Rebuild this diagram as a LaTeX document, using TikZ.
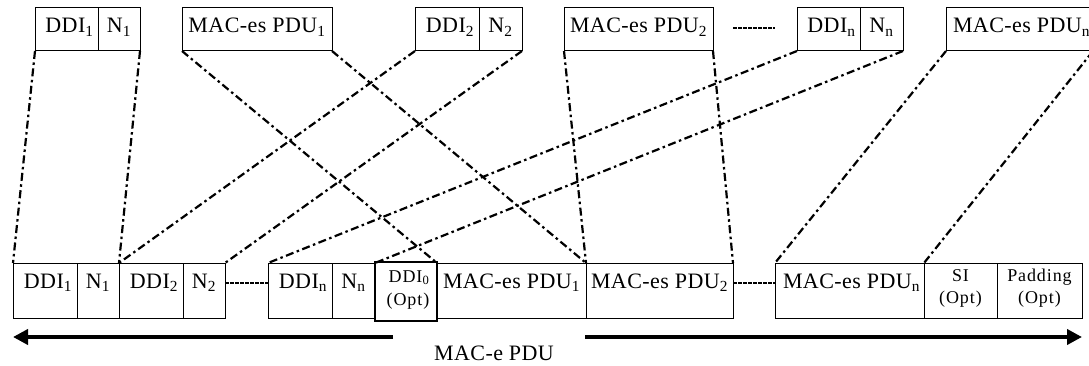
\documentclass[tikz,border=0pt]{standalone}
\usepackage{fontspec}
\setmainfont{Liberation Serif}
\newfontfamily\bigfont[LetterSpace=2]{Liberation Serif}
\newfontfamily\smallfont[LetterSpace=5]{Liberation Serif}
\usetikzlibrary{arrows.meta}
\tikzset{
 cell/.style={draw=black, line width=1pt, inner sep=0pt, outer sep=0pt, anchor=north west},
 bigtxt/.style={font=\bigfont\fontsize{22}{24}\selectfont, inner sep=0pt, anchor=base},
 smalltxt/.style={font=\smallfont\fontsize{18}{20}\selectfont, inner sep=0pt, anchor=base},
 link/.style={line width=2.2pt, dash pattern=on 8pt off 3.5pt on 2.5pt off 3.5pt},
 dotsep/.style={line width=2.6pt, dash pattern=on 4pt off 1pt},
 bigarrow/.style={line width=4pt, -{Triangle[length=15pt,width=15pt]}},
}
\newcommand\mkcell[6][]{\node[cell,#1, minimum width={#4pt-#3pt}, minimum height={#6pt-#5pt}] (#2) at (#3,#5) {};}
\begin{document}
\begin{tikzpicture}[x=1pt,y=-1pt]
\useasboundingbox (0,0) rectangle (1089,366);
\clip (0,0) rectangle (1089,366);
% top row
\mkcell{tD1}{35}{98}{8}{51}
\mkcell{tN1}{98}{140}{8}{51}
\mkcell{tP1}{182}{332}{8}{51}
\mkcell{tD2}{415}{479}{8}{51}
\mkcell{tN2}{479}{522}{8}{51}
\mkcell{tP2}{564}{713}{8}{51}
\mkcell{tDn}{797}{860}{8}{51}
\mkcell{tNn}{860}{903}{8}{51}
\mkcell{tPn}{946}{1093}{8}{51}
\node[bigtxt] (ttD1) at ([xshift=3pt,yshift=-25pt]tD1.north) {DDI\textsubscript{1}};
\node[bigtxt] (ttN1) at ([yshift=-25pt]tN1.north) {N\textsubscript{1}};
\node[bigtxt] (ttP1) at ([yshift=-25pt]tP1.north) {MAC-es PDU\textsubscript{1}};
\node[bigtxt] (ttD2) at ([xshift=3pt,yshift=-25pt]tD2.north) {DDI\textsubscript{2}};
\node[bigtxt] (ttN2) at ([yshift=-25pt]tN2.north) {N\textsubscript{2}};
\node[bigtxt] (ttP2) at ([yshift=-25pt]tP2.north) {MAC-es PDU\textsubscript{2}};
\node[bigtxt] (ttDn) at ([xshift=3pt,yshift=-25pt]tDn.north) {DDI\textsubscript{n}};
\node[bigtxt] (ttNn) at ([yshift=-25pt]tNn.north) {N\textsubscript{n}};
\node[bigtxt] (ttPn) at ([xshift=2pt,yshift=-25pt]tPn.north) {MAC-es PDU\textsubscript{n}};
\coordinate (d1) at (733,28);
\coordinate (d2) at (775,28);
\draw[dotsep] (d1) -- (d2);
% bottom row
\mkcell{bD1}{13}{77}{263}{318}
\mkcell{bN1}{77}{119}{263}{318}
\mkcell{bD2}{119}{183}{263}{318}
\mkcell{bN2}{183}{225}{263}{318}
\mkcell{bDn}{268}{332}{263}{318}
\mkcell{bNn}{332}{375}{263}{318}
\mkcell{bP1}{437}{586}{263}{318}
\mkcell{bP2}{586}{733}{263}{318}
\mkcell{bPn}{775}{924}{263}{318}
\mkcell{bSI}{924}{997}{263}{318}
\mkcell{bPad}{997}{1082}{263}{318}
\mkcell[line width=2pt]{bD0}{375}{437}{262}{321}
\node[bigtxt] (tbD1) at ([xshift=3pt,yshift=-25pt]bD1.north) {DDI\textsubscript{1}};
\node[bigtxt] (tbN1) at ([yshift=-25pt]bN1.north) {N\textsubscript{1}};
\node[bigtxt] (tbD2) at ([xshift=3pt,yshift=-25pt]bD2.north) {DDI\textsubscript{2}};
\node[bigtxt] (tbN2) at ([yshift=-25pt]bN2.north) {N\textsubscript{2}};
\node[bigtxt] (tbDn) at ([xshift=3pt,yshift=-25pt]bDn.north) {DDI\textsubscript{n}};
\node[bigtxt] (tbNn) at ([yshift=-25pt]bNn.north) {N\textsubscript{n}};
\node[bigtxt] (tbP1) at ([yshift=-25pt]bP1.north) {MAC-es PDU\textsubscript{1}};
\node[bigtxt] (tbP2) at ([yshift=-25pt]bP2.north) {MAC-es PDU\textsubscript{2}};
\node[bigtxt] (tbPn) at ([xshift=2pt,yshift=-25pt]bPn.north) {MAC-es PDU\textsubscript{n}};
\node[smalltxt] (tbD0a) at ([xshift=3pt,yshift=-20pt]bD0.north) {DDI\textsubscript{0}};
\node[smalltxt] (tbD0b) at ([xshift=2pt,yshift=-43pt]bD0.north) {(Opt)};
\node[smalltxt] (tbSIa) at ([yshift=-18pt]bSI.north) {SI};
\node[smalltxt] (tbSIb) at ([yshift=-40pt]bSI.north) {(Opt)};
\node[smalltxt] (tbPada) at ([yshift=-18pt]bPad.north) {Padding};
\node[smalltxt] (tbPadb) at ([yshift=-40pt]bPad.north) {(Opt)};
\draw[dotsep] ([yshift=-20pt]bN2.north east) -- ([yshift=-20pt]bDn.north west);
\draw[dotsep] ([yshift=-20pt]bP2.north east) -- ([yshift=-20pt]bPn.north west);
% connectors
\draw[link] (tD1.south west) -- (bD1.north west);
\draw[link] (tN1.south east) -- (bN1.north east);
\draw[link] (tP1.south west) -- (bP1.north west);
\draw[link] (tP1.south east) -- (bP1.north east);
\draw[link] (tD2.south west) -- (bD2.north west);
\draw[link] (tN2.south east) -- (bN2.north east);
\draw[link] (tP2.south west) -- (bP2.north west);
\draw[link] (tP2.south east) -- (bP2.north east);
\draw[link] (tDn.south west) -- (bDn.north west);
\draw[link] (tNn.south east) -- (bNn.north east);
\draw[link] (tPn.south west) -- (bPn.north west);
\draw[link] (tPn.south east) -- (bPn.north east);
% length arrow
\coordinate (aL) at (13,337);
\coordinate (aR) at (1082,337);
\coordinate (gL) at (393,337);
\coordinate (gR) at (585,337);
\draw[bigarrow] (gL) -- (aL);
\draw[bigarrow] (gR) -- (aR);
\node[bigtxt] (lab) at (494,360) {MAC-e PDU};
\end{tikzpicture}
\end{document}
